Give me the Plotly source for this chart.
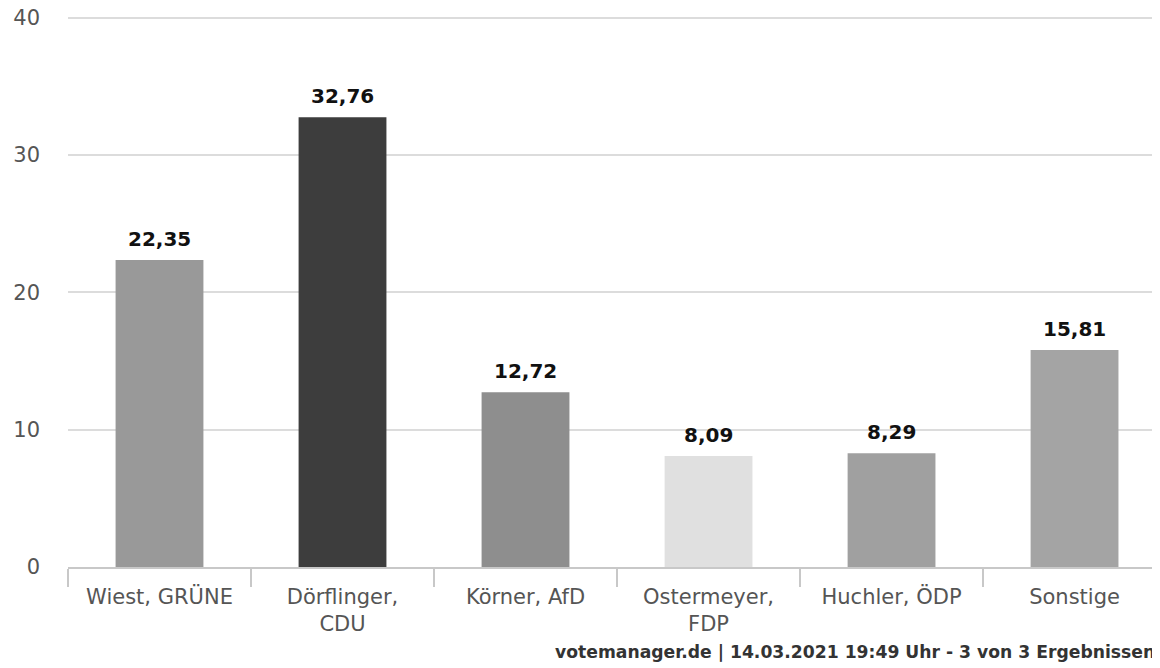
import plotly.graph_objects as go

categories = ["Wiest, GRÜNE", "Dörflinger,<br>CDU", "Körner, AfD", "Ostermeyer,<br>FDP", "Huchler, ÖDP", "Sonstige"]
values = [22.35, 32.76, 12.72, 8.09, 8.29, 15.81]
bar_colors = ["#999999", "#3d3d3d", "#8e8e8e", "#e0e0e0", "#a0a0a0", "#a4a4a4"]
y_ticks = [0, 10, 20, 30, 40]
footer = "votemanager.de | 14.03.2021 19:49 Uhr - 3 von 3 Ergebnissen"

# the page body adds an 8px offset; figure coordinates below compensate for it
OFF = 8
W, H = 1160 - OFF, 668 - OFF
ml = 68 - OFF
y_top = 40.2
px_per_unit = (567 - 18) / 40.0
plot_bottom = 567 - OFF
mt = plot_bottom - y_top * px_per_unit
plot_h = plot_bottom - mt

fig = go.Figure(go.Bar(
    x=categories, y=values,
    marker=dict(color=bar_colors, line=dict(width=0)),
    width=0.48,
    hoverinfo="x+y",
))

for c, v in zip(categories, values):
    fig.add_annotation(
        x=c, y=v, text="<b>" + f"{v:.2f}".replace(".", ",") + "</b>",
        xref="x", yref="y", showarrow=False,
        xanchor="center", yanchor="bottom", yshift=7,
        font=dict(family="DejaVu Sans", size=20, color="#111111"),
    )

fig.update_layout(
    width=W, height=H,
    margin=dict(l=ml, r=0, t=mt, b=H - plot_bottom),
    paper_bgcolor="white", plot_bgcolor="white",
    separators=",.",
    showlegend=False,
    font=dict(family="DejaVu Sans", color="#555555"),
)
fig.update_xaxes(
    type="category",
    range=[-0.5, 5.467],
    tickson="boundaries",
    ticks="outside", ticklen=18, tickcolor="#c8c8c8", tickwidth=1.5,
    showline=True, linecolor="#c8c8c8", linewidth=1.5,
    tickfont=dict(size=21, color="#555555"),
    ticklabelstandoff=10,
    showgrid=False, automargin=False,
)
fig.update_yaxes(
    range=[0, y_top], tickvals=y_ticks,
    showgrid=True, gridcolor="#dcdcdc", gridwidth=1.5,
    zeroline=False, showline=False,
    tickfont=dict(size=21, color="#555555"),
    ticklabelstandoff=27, automargin=False,
    ticklabeloverflow="allow",
)
fig.add_annotation(
    text="<b>" + footer + "</b>",
    xref="paper", yref="paper",
    x=(553 - 68) / (W - ml), y=-(652 - 567) / plot_h,
    xanchor="left", yanchor="middle", showarrow=False,
    font=dict(family="DejaVu Sans", size=17.2, color="#333333"),
)

fig.write_html("out.html")
